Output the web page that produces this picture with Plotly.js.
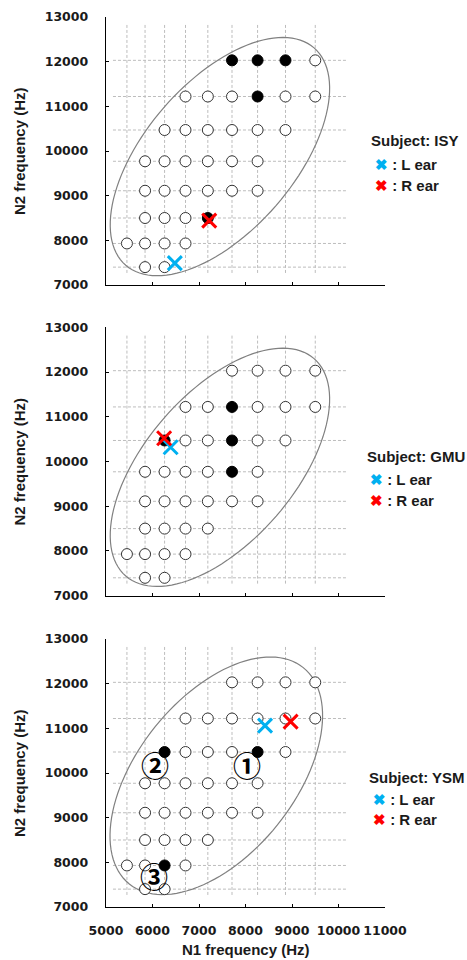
<!DOCTYPE html>
<html>
<head>
<meta charset="utf-8">
<script src="https://cdn.plot.ly/plotly-3.0.1.min.js"></script>
<style>html,body{margin:0;padding:0;background:#fff;}#chart{width:467px;height:960px;}</style>
</head>
<body>
<div id="chart"></div>
<script>
// ---- data ----
const subjects = ['ISY', 'GMU', 'YSM'];
const n1Values = [5450, 5840, 6260, 6710, 7190, 7710, 8260, 8860, 9500];
const n2Values = [12030, 11220, 10470, 9770, 9110, 8500, 7930, 7400]; // rows top -> bottom
// 0 = no stimulus, 1 = open circle, 2 = filled circle
const gridISY = [
  [0,0,0,0,0,2,2,2,1],
  [0,0,0,1,1,1,2,1,1],
  [0,0,1,1,1,1,1,1,0],
  [0,1,1,1,1,1,1,0,0],
  [0,1,1,1,1,1,1,0,0],
  [0,1,1,1,2,0,0,0,0],
  [1,1,1,1,0,0,0,0,0],
  [0,1,1,0,0,0,0,0,0]
];
const gridGMU = [
  [0,0,0,0,0,1,1,1,1],
  [0,0,0,1,1,2,1,1,1],
  [0,0,2,1,1,2,1,1,0],
  [0,1,1,1,1,2,1,0,0],
  [0,1,1,1,1,1,1,0,0],
  [0,1,1,1,1,0,0,0,0],
  [1,1,1,1,0,0,0,0,0],
  [0,1,1,0,0,0,0,0,0]
];
const gridYSM = [
  [0,0,0,0,0,1,1,1,1],
  [0,0,0,1,1,1,1,1,1],
  [0,0,2,1,1,1,2,1,0],
  [0,1,1,1,1,1,1,0,0],
  [0,1,1,1,1,1,1,0,0],
  [0,1,1,1,1,0,0,0,0],
  [1,1,2,1,0,0,0,0,0],
  [0,1,1,0,0,0,0,0,0]
];
const earL_N1 = [6480, 6390, 8420];
const earL_N2 = [7490, 10320, 11060];
const earR_N1 = [7220, 6250, 8970];
const earR_N2 = [8440, 10520, 11150];
const labelTexts = ['①', '②', '③'];
const labelN1 = [8030, 6050, 6040];
const labelN2 = [10180, 10180, 7690];
const xTicks = [5000, 6000, 7000, 8000, 9000, 10000, 11000];
const yTicks = [7000, 8000, 9000, 10000, 11000, 12000, 13000];
const xTitle = 'N1 frequency (Hz)';
const yTitle = 'N2 frequency (Hz)';

// ---- layout geometry ----
const W = 467, H = 960;
const M = {l: 106, r: 82, t: 17, b: 53};
const PW = W - M.l - M.r, PH = H - M.t - M.b;
const pxX = px => (px - M.l) / PW;
const pxY = py => (H - M.b - py) / PH;
const domains = [[pxY(285), 1], [pxY(595.7), pxY(327.3)], [0, pxY(639)]];
const grids = [gridISY, gridGMU, gridYSM];
// ellipse parameters (pixel semi-axes, degrees)
const ellipses = [
  {cx: 7450, cy: 9875, a: 143.8, b: 74.5, th: 49.1},
  {cx: 7450, cy: 9870, a: 143.8, b: 74.5, th: 49.1},
  {cx: 7372, cy: 9937, a: 138.8, b: 78.4, th: 51.2}
];
const kx = PW / 6;       // px per 1000 Hz
const ky = domains.map(d => (d[1]-d[0]) * PH / 6);

const FONT = 'DejaVu Sans';
const TFONT = 'Liberation Sans';
const TXT = '#1a1a1a';
const traces = [];
const shapes = [];
const annotations = [];
const layout = {
  width: W, height: H,
  margin: M,
  paper_bgcolor: '#fff', plot_bgcolor: '#fff',
  showlegend: false,
  font: {family: FONT, color: TXT},
  shapes: shapes,
  annotations: annotations
};

subjects.forEach((s, i) => {
  const k = i === 0 ? '' : String(i + 1);
  const xa = 'x' + k, ya = 'y' + k;
  layout['xaxis' + k] = {
    domain: [0, 1], anchor: ya, range: [5000, 11000],
    tickvals: xTicks, showticklabels: i === 2, ticks: 'inside', ticklen: 3, tickcolor: '#000',
    showline: true, linecolor: '#000', linewidth: 1.3, showgrid: false, zeroline: false,
    tickformat: 'd', ticklabelstandoff: 12,
    tickfont: {family: FONT, size: 12.5, weight: 'bold', color: TXT}
  };
  layout['yaxis' + k] = {
    domain: domains[i], anchor: xa, range: [7000, 13000],
    tickvals: yTicks, ticks: 'inside', ticklen: 3, tickcolor: '#000',
    showline: true, linecolor: '#000', linewidth: 1.3, showgrid: false, zeroline: false,
    tickformat: 'd', ticklabelstandoff: 14,
    tickfont: {family: FONT, size: 12.5, weight: 'bold', color: TXT}
  };
  // y-axis title for this panel
  annotations.push({xref: 'paper', yref: 'paper', x: pxX(19), y: (domains[i][0] + domains[i][1]) / 2,
    xanchor: 'center', yanchor: 'middle', textangle: -90, text: yTitle, showarrow: false, borderpad: 0,
    font: {family: TFONT, size: 15, weight: 'bold', color: TXT}});

  // dashed stimulus grid
  n1Values.forEach(v => shapes.push({type: 'line', xref: xa, yref: ya, x0: v, x1: v, y0: 7270, y1: 12830,
    line: {color: '#bdbdbd', width: 1, dash: '3px,2px'}, layer: 'below'}));
  n2Values.forEach(v => shapes.push({type: 'line', xref: xa, yref: ya, x0: 5150, x1: 10160, y0: v, y1: v,
    line: {color: '#bdbdbd', width: 1, dash: '3px,2px'}, layer: 'below'}));

  // ellipse
  const e = ellipses[i];
  const th = e.th * Math.PI / 180;
  let path = '';
  for (let j = 0; j <= 120; j++) {
    const t = 2 * Math.PI * j / 120;
    const dx = e.a * Math.cos(t) * Math.cos(th) - e.b * Math.sin(t) * Math.sin(th);
    const dy = e.a * Math.cos(t) * Math.sin(th) + e.b * Math.sin(t) * Math.cos(th);
    const x = e.cx + dx / kx * 1000, y = e.cy + dy / ky[i] * 1000;
    path += (j === 0 ? 'M' : 'L') + x.toFixed(1) + ',' + y.toFixed(1);
  }
  path += 'Z';
  shapes.push({type: 'path', xref: xa, yref: ya, path: path, line: {color: '#808080', width: 1.2}, layer: 'below'});

  // circles
  const g = grids[i];
  const ox = [], oy = [], fx = [], fy = [];
  g.forEach((row, r) => row.forEach((c, col) => {
    if (c === 1) { ox.push(n1Values[col]); oy.push(n2Values[r]); }
    if (c === 2) { fx.push(n1Values[col]); fy.push(n2Values[r]); }
  }));
  traces.push({type: 'scatter', mode: 'markers', x: ox, y: oy, xaxis: xa, yaxis: ya, hoverinfo: 'skip',
    marker: {symbol: 'circle', size: 11, color: '#fff', line: {color: '#333', width: 1}}});
  traces.push({type: 'scatter', mode: 'markers', x: fx, y: fy, xaxis: xa, yaxis: ya, hoverinfo: 'skip',
    marker: {symbol: 'circle', size: 11, color: '#000', line: {color: '#000', width: 1}}});
  // ears
  traces.push({type: 'scatter', mode: 'markers', name: 'L ear', x: [earL_N1[i]], y: [earL_N2[i]], xaxis: xa, yaxis: ya,
    marker: {symbol: 'x-thin-open', size: 14, color: '#00B0F0', line: {color: '#00B0F0', width: 3}}});
  traces.push({type: 'scatter', mode: 'markers', name: 'R ear', x: [earR_N1[i]], y: [earR_N2[i]], xaxis: xa, yaxis: ya,
    marker: {symbol: 'x-thin-open', size: 14, color: '#FF0000', line: {color: '#FF0000', width: 3}}});
});

// x-axis title (bottom panel)
annotations.push({xref: 'paper', yref: 'paper', x: 0.5, y: pxY(959), xanchor: 'center', yanchor: 'bottom',
  text: xTitle, showarrow: false, borderpad: 0, font: {family: TFONT, size: 15, weight: 'bold', color: TXT}});

// legends as text
const legendPos = [
  {x: 370, y: 141, xi: 374, yl: 164, yr: 186},
  {x: 366, y: 456, xi: 369, yl: 479, yr: 500},
  {x: 368, y: 777, xi: 372, yl: 799, yr: 819}
];
subjects.forEach((s, i) => {
  const p = legendPos[i];
  const f = {family: TFONT, size: 15, weight: 'bold', color: TXT};
  annotations.push({xref: 'paper', yref: 'paper', x: pxX(p.x), y: pxY(p.y), xanchor: 'left', yanchor: 'middle',
    text: 'Subject: ' + s, showarrow: false, font: f, borderpad: 0});
  annotations.push({xref: 'paper', yref: 'paper', x: pxX(p.xi), y: pxY(p.yl), xanchor: 'left', yanchor: 'middle',
    text: '<span style="color:#00B0F0">✖</span> : L ear', showarrow: false, font: f, borderpad: 0});
  annotations.push({xref: 'paper', yref: 'paper', x: pxX(p.xi), y: pxY(p.yr), xanchor: 'left', yanchor: 'middle',
    text: '<span style="color:#FF0000">✖</span> : R ear', showarrow: false, font: f, borderpad: 0});
});
// circled labels on the third panel
labelTexts.forEach((t, j) => annotations.push({xref: 'x3', yref: 'y3', x: labelN1[j], y: labelN2[j],
  text: t, showarrow: false, font: {family: 'Noto Sans CJK JP', size: 28, weight: 'bold', color: '#000'}}));

Plotly.newPlot('chart', traces, layout, {staticPlot: true, displayModeBar: false});
</script>
</body>
</html>
